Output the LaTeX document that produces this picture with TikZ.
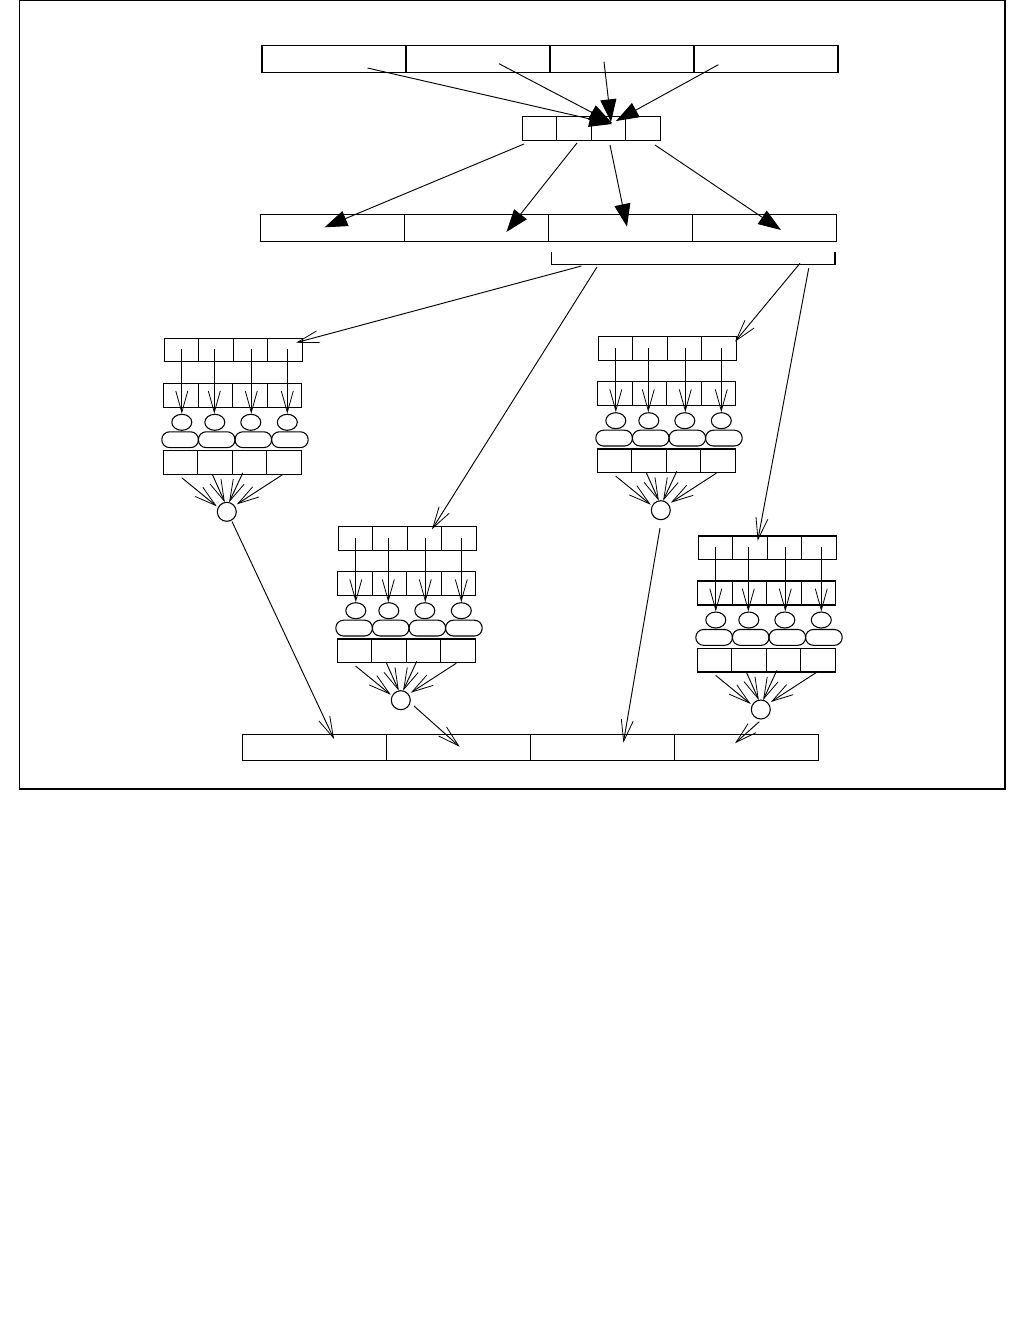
\documentclass[tikz,border=0pt]{standalone}
\usetikzlibrary{arrows.meta}
\newcommand\quadbar[3]{% left x, top y, height
  \draw[boxln] (#1,#2) rectangle ++(576,#3);
  \foreach \u in {144,288,432} \draw[boxln] (#1+\u,#2) -- ++(0,#3);
}
\newcommand\cellblock[3]{%
\begin{scope}[shift={(#1,#2)}]
  \draw[boxln] (0,0) rectangle (138,23.5);
  \foreach \u in {34.5,69,103.5} \draw[boxln] (\u,0) -- (\u,23.5);
  \draw[boxln] (-0.5,45) rectangle (137.5,69);
  \foreach \u in {34,68.5,103} \draw[boxln] (\u,45) -- (\u,69);
  \foreach \u in {17.5,50.5,86.5,123} \draw[thinln] (\u,84) ellipse [x radius=10, y radius=8];
  \foreach \u in {-2.5,34.1,70.7,107.3} \draw[pill] (\u,93.5) rectangle ++(36.6,15.8);
  \draw[boxln] (-1,112.3) rectangle (137.5,136);
  \foreach \u in {33.5,68,102.5} \draw[boxln] (\u,112.3) -- (\u,136);
  \draw[thinln] (62.5,173.5) circle [radius=9.5];
  \foreach \u [count=\i] in {17.5,50,87,123} {
    \coordinate (#3v\i s) at (\u,11);
    \coordinate (#3v\i e) at (\u,75.5);
    \draw[barb] (#3v\i s) -- (#3v\i e);
  }
  \coordinate (#3c1s) at (17.4,139.4);  \coordinate (#3c1e) at (52.4,168);
  \coordinate (#3c2s) at (48,136);      \coordinate (#3c2e) at (60.5,164);
  \coordinate (#3c3s) at (78.5,134.5);  \coordinate (#3c3e) at (64.8,164);
  \coordinate (#3c4s) at (118,136.5);   \coordinate (#3c4e) at (72.5,166);
  \foreach \i in {1,2,3,4} \draw[barb] (#3c\i s) -- (#3c\i e);
\end{scope}}
\begin{document}
\begin{tikzpicture}[x=0.75pt,y=-0.75pt,
  boxln/.style={draw,line width=0.85pt},
  thinln/.style={draw,line width=0.8pt},
  barb/.style={-{Straight Barb[length=16pt,width=9pt,line width=0.6pt]},line width=0.7pt},
  tri/.style={-{Triangle[length=17pt,width=12pt]},line width=0.7pt},
  pill/.style={draw,line width=0.8pt,rounded corners=5.8pt}]
\useasboundingbox (0,0) rectangle (1026,1343);
\draw[line width=0.9pt] (19.5,0.5) rectangle (1005,789);

% bars
\quadbar{262}{45.3}{27}
\quadbar{260.3}{214.3}{27}
\quadbar{242.6}{734.3}{26}

% small box row
\draw[boxln] (522.5,116.3) rectangle (660.3,140.3);
\foreach \u in {556.5,591.3,625.5} \draw[boxln] (\u,116.3) -- (\u,140.3);

% bracket
\draw[thinln] (551.6,252.3) -- (551.6,264.3) -- (835,264.3) -- (835,252.3);

% top arrows into small box
\coordinate (t1s) at (367.5,68);   \coordinate (t1e) at (612,124);
\coordinate (t2s) at (499,63.7);   \coordinate (t2e) at (612,123);
\coordinate (t3s) at (604,61.7);   \coordinate (t3e) at (611,122);
\coordinate (t4s) at (718.4,64.7); \coordinate (t4e) at (616,121);
\foreach \i in {1,2,3,4} \draw[tri] (t\i s) -- (t\i e);

% arrows from small box to second bar
\coordinate (m1s) at (524,144);  \coordinate (m1e) at (324.6,227.3);
\coordinate (m2s) at (577,143);  \coordinate (m2e) at (506.4,232);
\coordinate (m3s) at (610,145);  \coordinate (m3e) at (627,226.7);
\coordinate (m4s) at (655,145);  \coordinate (m4e) at (781,230);
\foreach \i in {1,2,3,4} \draw[tri] (m\i s) -- (m\i e);

% blocks
\cellblock{164.3}{338.3}{A}
\cellblock{338.3}{526.7}{B}
\cellblock{598.3}{336.7}{C}
\cellblock{698.3}{536}{D}

% bracket arrows to blocks
\coordinate (b1s) at (581.4,266);   \coordinate (b1e) at (296,342.7);
\coordinate (b2s) at (597,267);     \coordinate (b2e) at (432,529.3);
\coordinate (b3s) at (800,263.3);   \coordinate (b3e) at (735,341.7);
\coordinate (b4s) at (808.7,268.3); \coordinate (b4e) at (757.7,540.7);
\foreach \i in {1,2,3,4} \draw[barb] (b\i s) -- (b\i e);

% outputs to bottom bar
\coordinate (o1s) at (232,521.5);   \coordinate (o1e) at (334,739);
\coordinate (o2s) at (414,706);     \coordinate (o2e) at (459.6,746.7);
\coordinate (o3s) at (660,528);     \coordinate (o3e) at (623.4,742.7);
\coordinate (o4s) at (759.3,721.7); \coordinate (o4e) at (735,743.3);
\foreach \i in {1,2,3,4} \draw[barb] (o\i s) -- (o\i e);
\end{tikzpicture}
\end{document}
